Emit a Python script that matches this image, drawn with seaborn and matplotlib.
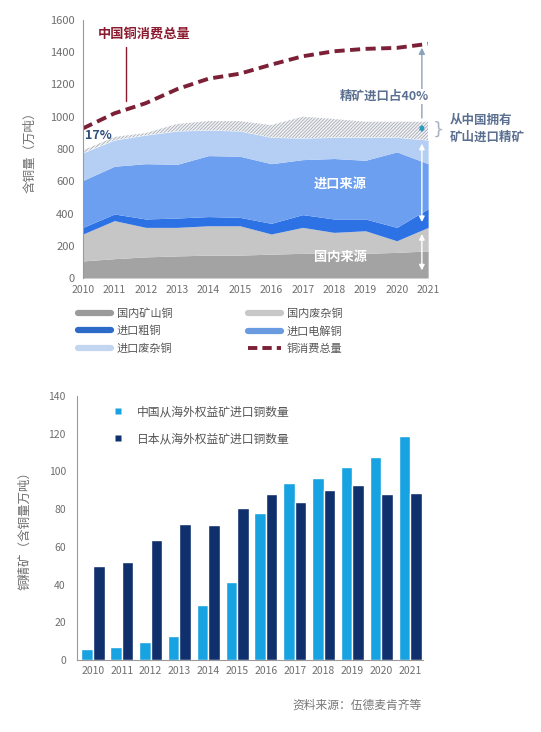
import numpy as np
import pandas as pd
import matplotlib
matplotlib.use("Agg")
import matplotlib.pyplot as plt
from matplotlib.lines import Line2D
import seaborn as sns

# -------------------------
# Data
# -------------------------
years = [2010, 2011, 2012, 2013, 2014, 2015, 2016, 2017, 2018, 2019, 2020, 2021]

# top chart: copper supply layers, 万吨 (stacked)
domestic_mine  = [106, 120, 131, 137, 142, 142, 148, 153, 153, 153, 159, 168]
domestic_scrap = [167, 236, 183, 177, 182, 182, 125, 161, 130, 140, 72, 146]
import_blister = [41, 41, 52, 58, 57, 52, 66, 79, 83, 73, 83, 115]
import_cathode = [291, 296, 343, 333, 378, 379, 370, 341, 375, 364, 468, 280]
import_scrap   = [171, 162, 177, 206, 158, 156, 163, 133, 131, 142, 90, 146]
overseas_conc  = [16, 19, 13, 44, 56, 62, 76, 133, 114, 97, 97, 114]
total_use      = [928, 1021, 1084, 1171, 1236, 1267, 1323, 1375, 1406, 1421, 1427, 1452]

layer_names = ['国内矿山铜', '国内废杂铜', '进口粗铜', '进口电解铜', '进口废杂铜']
layer_colors = ['#a3a3a3', '#c6c6c6', '#2d72e4', '#6c9ff0', '#b4cef4']
legend_colors = ['#9b9b9b', '#c8c8c8', '#2e6ac8', '#6a9be0', '#c2d6f0']

# bottom chart: concentrate imports from overseas equity mines
bar_years = [str(y) for y in years]
china_equity = [6, 7, 9.5, 12.7, 29, 41.5, 78, 94, 96.5, 102.5, 107.5, 118.5]
japan_equity = [50, 52, 63.5, 72, 71.5, 80.5, 88, 83.5, 90, 93, 88, 88.5]
bar_series = ['中国从海外权益矿进口铜数量', '日本从海外权益矿进口铜数量']
bar_colors = ['#17a2e2', '#0f2f6d']

# -------------------------
# Style
# -------------------------
sns.set_theme(style="white")
plt.rcParams['font.family'] = ['Noto Sans CJK SC', 'DejaVu Sans']
plt.rcParams['hatch.linewidth'] = 0.5
plt.rcParams['hatch.color'] = '#9a9a9a'
TXT = '#6e6e6e'

fig = plt.figure(figsize=(5.41, 7.32), dpi=100)

# -------------------------
# Top chart
# -------------------------
ax1 = fig.add_axes([0.1534, 0.6202, 0.638, 0.3525])
ax1.stackplot(years, domestic_mine, domestic_scrap, import_blister,
              import_cathode, import_scrap, colors=layer_colors, linewidth=0)
lb_top = np.cumsum([domestic_mine, domestic_scrap, import_blister,
                    import_cathode, import_scrap], axis=0)[-1]
ax1.fill_between(years, lb_top, lb_top + np.array(overseas_conc),
                 facecolor='#eef2f8', edgecolor='#a0a0a0',
                 hatch='//////////', linewidth=0)
sns.lineplot(x=years, y=total_use, ax=ax1, color='#7b2036', lw=2.8)
ax1.lines[-1].set_dashes((2.6, 1.4))

ax1.set_xlim(2010, 2021)
ax1.set_ylim(0, 1600)
ax1.set_xticks(years)
ax1.set_yticks(range(0, 1601, 200))
ax1.tick_params(axis='x', labelsize=7.5, colors=TXT, length=0, pad=5)
ax1.tick_params(axis='y', labelsize=8, colors=TXT, length=0, pad=6)
for s in ['top', 'right', 'bottom']:
    ax1.spines[s].set_visible(False)
ax1.spines['left'].set_color('#9a9a9a')
ax1.spines['left'].set_linewidth(0.8)
ax1.set_ylabel('含铜量（万吨）', fontsize=9, color=TXT, labelpad=10)

# annotations
ax1.text(2011.95, 1516, '中国铜消费总量', color='#8b1a2e', fontsize=9.5,
         fontweight='bold', ha='center', va='center')
ax1.plot([2011.37, 2011.37], [1430, 1100], color='#8b1a2e', lw=1)
ax1.text(2010.5, 886, '17%', color='#2d4e7e', fontsize=9, fontweight='bold',
         ha='center', va='center')
ax1.annotate('', xy=(2020.8, 1445), xytext=(2020.8, 975),
             arrowprops=dict(arrowstyle='-|>', color='#8aa3bd', lw=1,
                             mutation_scale=9), annotation_clip=False)
ax1.text(2019.6, 1125, '精矿进口占40%', color='#5b7090', fontsize=9,
         fontweight='bold', ha='center', va='center', clip_on=False,
         bbox=dict(facecolor='white', edgecolor='none', pad=0.5))
ax1.annotate('', xy=(2020.8, 970), xytext=(2020.8, 885),
             arrowprops=dict(arrowstyle='<|-|>', color='#2a9ac0', lw=1,
                             mutation_scale=7), annotation_clip=False)
ax1.annotate('', xy=(2020.8, 850), xytext=(2020.8, 330),
             arrowprops=dict(arrowstyle='<|-|>', color='white', lw=1,
                             mutation_scale=8), annotation_clip=False)
ax1.annotate('', xy=(2020.8, 290), xytext=(2020.8, 30),
             arrowprops=dict(arrowstyle='<|-|>', color='white', lw=1,
                             mutation_scale=8), annotation_clip=False)
ax1.text(2021.15, 922, '}', color='#a8b4c4', fontsize=13, ha='left',
         va='center', clip_on=False, family='DejaVu Sans')
ax1.text(2021.7, 925, '从中国拥有\n矿山进口精矿', color='#5b7090', fontsize=9,
         fontweight='bold', ha='left', va='center', linespacing=1.4,
         clip_on=False)
ax1.text(2018.2, 587, '进口来源', color='white', fontsize=9.5,
         fontweight='bold', ha='center', va='center')
ax1.text(2018.2, 131, '国内来源', color='white', fontsize=9.5,
         fontweight='bold', ha='center', va='center')

# legend (rows: mine/scrap, blister/cathode, import scrap/total)
handles = [Line2D([0], [0], color=c, lw=4.5) for c in legend_colors]
handles.append(Line2D([0], [0], color='#7b2036', lw=2.8, dashes=(2.4, 1.3)))
labels = layer_names + ['铜消费总量']
order = [0, 2, 4, 1, 3, 5]
fig.legend([handles[i] for i in order], [labels[i] for i in order],
           ncol=2, loc='upper left', bbox_to_anchor=(0.125, 0.593),
           frameon=False, fontsize=8, labelcolor='#555555',
           handlelength=3.0, handletextpad=0.5, columnspacing=6.8,
           labelspacing=0.66)

# -------------------------
# Bottom chart
# -------------------------
df = pd.DataFrame({
    'year': bar_years * 2,
    'series': [bar_series[0]] * len(bar_years) + [bar_series[1]] * len(bar_years),
    'value': china_equity + japan_equity,
})
ax2 = fig.add_axes([0.1423, 0.0984, 0.6396, 0.3607])
sns.barplot(data=df, x='year', y='value', hue='series', palette=bar_colors,
            width=0.8, ax=ax2, legend=False, saturation=1)
ax2.set_xlim(-0.556, 11.45)
ax2.set_ylim(0, 140)
ax2.set_yticks(range(0, 141, 20))
ax2.tick_params(axis='x', labelsize=7.5, colors=TXT, length=0, pad=4)
ax2.tick_params(axis='y', labelsize=7.5, colors=TXT, length=0, pad=8)
ax2.set_xlabel('')
ax2.set_ylabel('铜精矿（含铜量万吨）', fontsize=9, color=TXT, labelpad=12)
for s in ['top', 'right']:
    ax2.spines[s].set_visible(False)
for s in ['left', 'bottom']:
    ax2.spines[s].set_color('#9a9a9a')
    ax2.spines[s].set_linewidth(0.8)

bar_handles = [Line2D([0], [0], marker='s', color='none', markerfacecolor=c,
                      markeredgecolor='none', markersize=5) for c in bar_colors]
ax2.legend(bar_handles, bar_series, loc='upper left',
           bbox_to_anchor=(0.068, 1.004), frameon=False, fontsize=8.5,
           labelcolor='#555555', handlelength=1.2, handletextpad=1.0,
           labelspacing=1.15)

fig.text(0.78, 0.037, '资料来源：伍德麦肯齐等', color='#777777', fontsize=8.5,
         ha='right', va='center', style='italic')

fig.savefig('out.png', dpi=100, facecolor='white')
